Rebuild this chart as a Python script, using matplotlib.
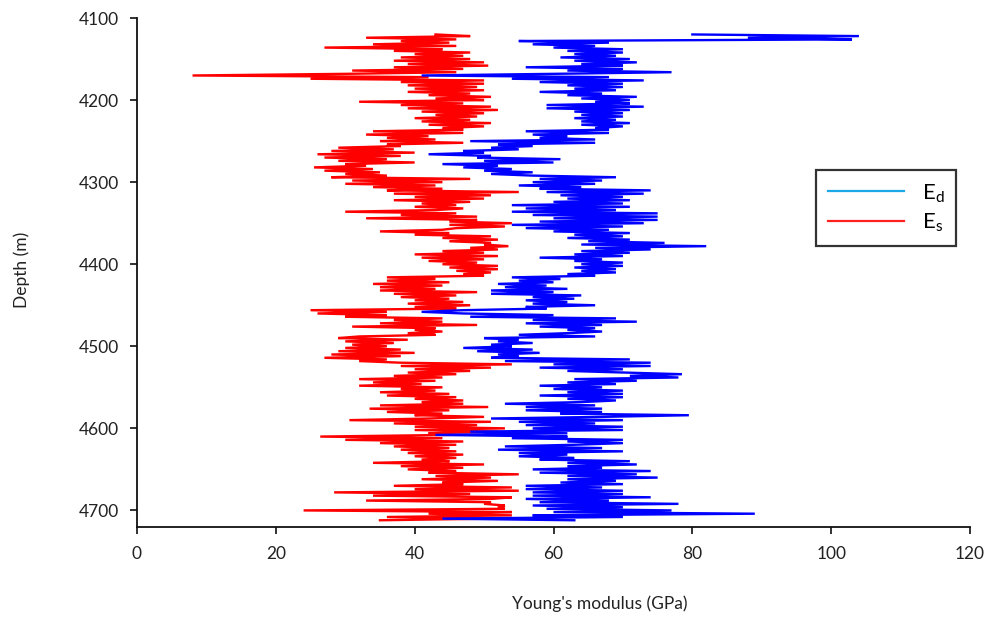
import numpy as np
import matplotlib
matplotlib.use("Agg")
import matplotlib.pyplot as plt
from matplotlib.lines import Line2D

# Sampling grid of the log (m), 2 m step from 4120 to 4712
depth_top = 4120
depth_step = 2

# Static Young's modulus Es (GPa)
Es = [
    43, 48, 33, 46, 38,   45, 34, 46, 27, 44,   37, 48, 40, 47, 38,   48, 37, 50, 39, 50.6,
    37, 47, 31, 46, 30,   8, 42, 25, 50, 38,    50, 39, 49, 40, 50,   39, 48, 42, 51, 43,
    50, 32, 47, 38, 51,   39, 52, 41, 50, 43,   49, 40, 48, 41, 51,   42, 50, 44, 47, 34,
    47, 33, 42, 36, 43,   35, 47, 36, 38, 29,   37, 28, 40, 26, 38,   27, 36, 29, 40, 30,
    33, 25.5, 34, 27, 35, 30, 36, 28, 48, 31,   44, 30, 43, 34, 44,   36, 55, 37, 51, 40,
    50, 37, 48, 41, 46,   40, 47, 43, 30, 46,   38, 49, 33, 49, 45,   54, 45, 53, 46, 44,
    35, 45, 40, 51, 44,   52, 45, 51, 50, 53.5, 48, 52, 44, 50, 40,   52, 41, 50, 42, 49,
    44, 52, 45, 52, 46,   51, 47, 50, 36, 43,   36, 45, 34, 44, 35,   43, 35, 49, 37, 46,
    38, 45, 40, 47, 39,   48, 40, 46, 25, 36,   26, 36, 30, 44, 37,   44, 35, 49, 31, 43,
    40, 44, 39, 43, 32,   29, 39, 30, 37, 31,   36, 30, 38, 29, 40,   28, 38, 27, 36, 32,
    38, 54, 38, 51, 40,   48, 39, 46, 37, 44,   32, 43, 34, 41, 32,   44, 38, 43, 35, 45,
    36, 46, 40, 47, 41,   47, 35, 50.6, 33.5, 45, 36, 44, 40, 50, 42, 30.6, 51, 37, 49, 40,
    53, 40, 52, 42, 45,   26.4, 44, 30, 47, 35, 46, 37, 45, 38, 46,   39, 47, 40, 46, 41,
    45, 34, 50, 38, 47,   39, 46, 42, 55, 43,   51, 41, 52, 44, 47,   37, 54, 40, 55, 28.4,
    48, 34, 54, 51, 33,   51, 50, 53, 52, 53,   24, 54, 42, 54, 36,   51, 35,
]

# Dynamic Young's modulus Ed (GPa)
Ed = [
    80, 104, 88, 103, 55,  68, 57, 66, 60, 70,   62, 70, 63, 69, 61,   71, 63, 72, 64, 70,
    56, 70, 62, 77, 60,   41, 68, 54, 73, 58,   70, 62, 70, 63, 69,   58, 67, 62, 72, 64,
    71, 66, 71, 59, 73,   59, 71, 63, 70, 64,   70, 63, 69, 64, 71,   64, 70, 66, 68, 56,
    68, 57, 62, 58, 66,   48, 66, 52, 57, 51,   55, 47, 50, 42, 51,   49, 61, 50, 60, 44,
    52, 47, 54, 50, 57,   51, 57, 69, 58, 67,   57, 66, 55, 64, 58,   74, 59, 73, 61, 70,
    62, 71, 60, 70, 54,   71, 56, 69, 54, 75,   57, 75, 60, 75, 58,   73, 54, 70, 56, 68,
    60, 71, 63, 70, 62,   71, 65, 76, 64, 82,   66, 74, 64, 71, 63,   70, 58, 67, 63, 70,
    64, 70, 63, 69, 64,   69, 62, 66, 54, 61,   55, 60, 52, 59, 53,   62, 51, 60, 51, 64,
    57, 63, 56, 62, 57,   66, 56, 59, 47, 41,   47, 60, 48, 69, 57,   72, 56, 67, 58, 66,
    62, 67, 62, 55, 66,   50, 55, 52, 57, 51,   54, 47, 57, 49, 58,   52, 55, 51, 71, 53,
    74, 60, 74, 58, 70,   62, 70, 78.5, 71, 78, 63, 72, 62, 69, 58,   67, 60, 70, 62, 70,
    58, 70, 62, 69, 64,   53, 66, 56, 67, 56,   67, 61, 79.5, 67, 51, 70, 55, 66, 56, 70,
    57, 70, 48, 62, 43,   62, 54, 70, 62, 70,   63, 53, 67, 52, 70,   55, 62, 55, 63, 58,
    71, 62, 72, 62, 67,   57, 74, 58, 72, 62,   75, 62, 69, 61, 70,   56, 67, 56, 70, 57,
    70, 57, 74, 56, 68,   58, 78, 57, 70, 59,   77, 60, 89, 57, 70,   44, 63,
]

x_ticks = [0, 20, 40, 60, 80, 100, 120]
y_ticks = [4100, 4200, 4300, 4400, 4500, 4600, 4700]

depth_es = depth_top + depth_step * np.arange(len(Es))
depth_ed = depth_top + depth_step * np.arange(len(Ed))

plt.rcParams['font.family'] = ['Lato', 'DejaVu Sans']

fig = plt.figure(figsize=(10, 6.22), dpi=100)
ax = fig.add_axes([0.137, 0.153, 0.833, 0.818])

ax.plot(Es, depth_es, color='#FF0000', lw=1.7, solid_joinstyle='miter')
ax.plot(Ed, depth_ed, color='#0000FF', lw=1.7, solid_joinstyle='miter')

ax.set_xlim(0, 120)
ax.set_ylim(4720, 4100)
ax.set_xticks(x_ticks)
ax.set_yticks(y_ticks)
ax.tick_params(axis='both', direction='out', length=5, width=1.3,
               labelsize=12.5, colors='#222222')
ax.tick_params(axis='x', pad=9)
ax.tick_params(axis='y', pad=8)
for s in ['top', 'right']:
    ax.spines[s].set_visible(False)
for s in ['left', 'bottom']:
    ax.spines[s].set_linewidth(1.3)
    ax.spines[s].set_color('#111111')

ax.set_xlabel("Young's modulus (GPa)", fontsize=12.5, color='#222222')
ax.xaxis.set_label_coords((600 - 137) / 833, -(596 - 527) / 509)
ax.set_ylabel("Depth (m)", fontsize=12.5, color='#222222')
ax.yaxis.set_label_coords((30 - 137) / 833, (527 - 270) / 509)

handles = [Line2D([0], [0], color='#1CA8E6', lw=1.6),
           Line2D([0], [0], color='#FF2020', lw=1.6)]
labels = [r"E$_{\mathregular{d}}$", r"E$_{\mathregular{s}}$"]
leg = fig.legend(handles, labels, loc='upper left',
                 bbox_to_anchor=(0.816, 1 - 170 / 622),
                 bbox_transform=fig.transFigure, borderaxespad=0,
                 fontsize=16, handlelength=3.4, handletextpad=0.8,
                 labelspacing=0.3, borderpad=0.55, fancybox=False,
                 frameon=True)
leg.get_frame().set_edgecolor('black')
leg.get_frame().set_linewidth(1.6)

fig.savefig('out.png', dpi=100)
